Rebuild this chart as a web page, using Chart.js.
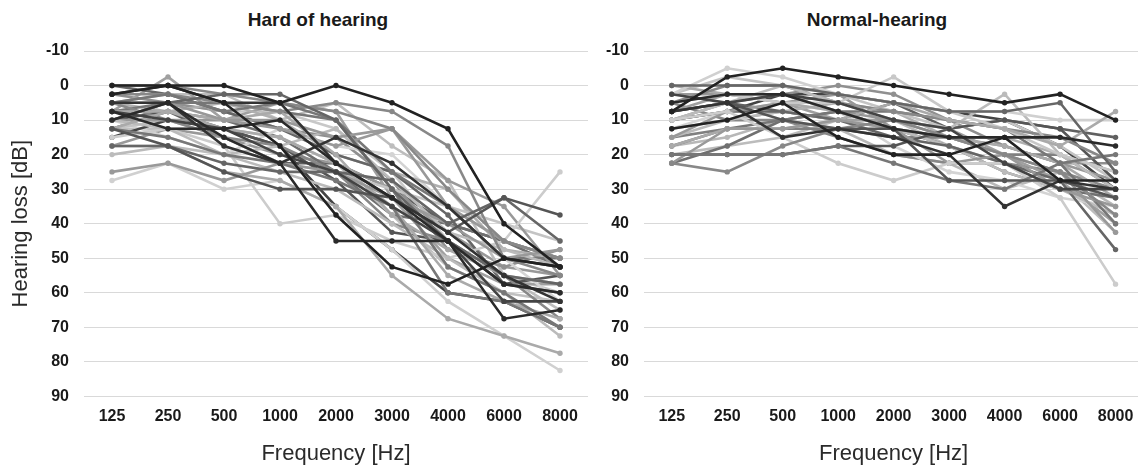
<!DOCTYPE html>
<html>
<head>
<meta charset="utf-8">
<script src="https://cdn.jsdelivr.net/npm/chart.js@4"></script>
<style>
  html, body { margin: 0; padding: 0; background: #fff; }
  body { position: relative; width: 1138px; height: 467px; overflow: hidden; font-family: "Liberation Sans", Arial, sans-serif; }
  canvas { position: absolute; top: 0; }
  .title { position: absolute; top: 9px; font-weight: bold; font-size: 19px; color: #1a1a1a; text-align: center; }
</style>
</head>
<body>
<div class="title" style="left:0;width:636px">Hard of hearing</div>
<div class="title" style="left:590px;width:574px">Normal-hearing</div>
<canvas id="hoh" width="600" height="467" style="left:0"></canvas>
<canvas id="nh" width="556" height="467" style="left:590px"></canvas>
<script>
const frequencies = ['125', '250', '500', '1000', '2000', '3000', '4000', '6000', '8000'];
const yMin = -10, yMax = 90, yStep = 10;

// hard of hearing, one row per listener (dB HL)
const hardOfHearing = [
  [0, 0, 0, 5, 0, 5, 12.5, 40, 52.5],
  [2.5, 0, 5, 17.5, 37.5, 52.5, 57.5, 50, 52.5],
  [7.5, 12.5, 12.5, 10, 22.5, 32.5, 45, 67.5, 65],
  [10, 5, 15, 22.5, 45, 45, 45, 57.5, 60],
  [5, 5, 17.5, 22.5, 15, 22.5, 35, 50, 52.5],
  [2.5, 0, 5, 5, 22.5, 32.5, 42.5, 55, 62.5],
  [7.5, 10, 12.5, 20, 25, 35, 45, 62.5, 62.5],
  [12.5, 17.5, 25, 30, 30, 32.5, 42.5, 32.5, 37.5],
  [17.5, 17.5, 22.5, 25, 25, 27.5, 40, 32.5, 45],
  [10, 5, 2.5, 2.5, 10, 30, 45, 55, 57.5],
  [5, 2.5, 7.5, 5, 10, 30, 52.5, 60, 70],
  [12.5, 15, 20, 22.5, 27.5, 35, 60, 62.5, 70],
  [0, 0, 2.5, 5, 7.5, 12.5, 30, 45, 50],
  [2.5, 2.5, 5, 7.5, 5, 7.5, 17.5, 50, 55],
  [5, 5, 10, 10, 15, 12.5, 35, 45, 50],
  [25, 22.5, 27.5, 22.5, 25, 32.5, 40, 50, 47.5],
  [7.5, 7.5, 10, 7.5, 20, 37.5, 47.5, 55, 57.5],
  [12.5, 7.5, 12.5, 15, 22.5, 35, 55, 62.5, 67.5],
  [10, 12.5, 20, 25, 30, 40, 50, 60, 72.5],
  [17.5, 17.5, 25, 27.5, 35, 55, 67.5, 72.5, 77.5],
  [27.5, 22.5, 30, 27.5, 35, 47.5, 62.5, 72.5, 82.5],
  [15, 12.5, 17.5, 40, 37.5, 45, 50, 45, 25],
  [20, 17.5, 20, 17.5, 12.5, 27.5, 42.5, 47.5, 52.5],
  [10, 10, 10, 12.5, 17.5, 12.5, 27.5, 35, 55],
  [5, 10, 15, 17.5, 25, 40, 45, 55, 67.5],
  [7.5, 5, 5, 7.5, 10, 25, 35, 50, 50],
  [0, 2.5, 7.5, 12.5, 20, 25, 37.5, 57.5, 60],
  [10, 7.5, 12.5, 17.5, 27.5, 42.5, 45, 57.5, 55],
  [15, 10, 12.5, 17.5, 35, 47.5, 60, 62.5, 70],
  [12.5, 10, 15, 22.5, 25, 30, 35, 40, 45],
  [5, 7.5, 5, 10, 20, 25, 30, 47.5, 50],
  [10, 15, 20, 12.5, 17.5, 20, 35, 50, 62.5],
  [7.5, -2.5, 10, 5, 7.5, 32.5, 50, 57.5, 57.5],
  [2.5, 5, 7.5, 12.5, 15, 27.5, 47.5, 52.5, 47.5],
  [12.5, 12.5, 12.5, 15, 22.5, 37.5, 52.5, 60, 62.5],
  [7.5, 7.5, 10, 15, 25, 37.5, 40, 45, 52.5],
  [5, 2.5, 2.5, 10, 5, 17.5, 27.5, 55, 65],
  [17.5, 12.5, 15, 20, 22.5, 30, 42.5, 52.5, 55],
  [10, 5, 7.5, 7.5, 12.5, 25, 45, 55, 60],
  [12.5, 7.5, 15, 22.5, 22.5, 30, 40, 45, 50]
];
const hohGreys = [
  '#222', '#222', '#2a2a2a', '#2a2a2a', '#333', '#333', '#444', '#555', '#666', '#666',
  '#777', '#777', '#888', '#888', '#999', '#999', '#aaa', '#aaa', '#bbb', '#aaa',
  '#d0d0d0', '#ccc', '#bbb', '#999', '#888', '#777', '#666', '#555', '#444', '#c4c4c4',
  '#b0b0b0', '#d4d4d4', '#a0a0a0', '#909090', '#c0c0c0', '#707070', '#bdbdbd', '#999', '#c8c8c8', '#606060'
];

// normal-hearing listeners
const normalHearing = [
  [7.5, -2.5, -5, -2.5, 0, 2.5, 5, 2.5, 10],
  [12.5, 10, 5, 15, 20, 20, 15, 27.5, 27.5],
  [5, 2.5, 2.5, 7.5, 12.5, 15, 15, 15, 17.5],
  [7.5, 5, 15, 12.5, 15, 20, 35, 27.5, 30],
  [2.5, 5, 2.5, 5, 10, 12.5, 22.5, 30, 30],
  [7.5, 5, 10, 12.5, 12.5, 27.5, 27.5, 27.5, 32.5],
  [0, 0, 0, 2.5, 5, 7.5, 7.5, 5, 25],
  [20, 20, 20, 17.5, 22.5, 27.5, 30, 22.5, 20],
  [22.5, 25, 17.5, 12.5, 10, 15, 20, 25, 37.5],
  [22.5, 12.5, 12.5, 10, 12.5, 15, 20, 25, 42.5],
  [17.5, 12.5, 12.5, 10, 5, 10, 12.5, 17.5, 7.5],
  [10, 7.5, 15, 22.5, 27.5, 22.5, 22.5, 32.5, 57.5],
  [2.5, -5, -2.5, 2.5, 5, 7.5, 7.5, 10, 10],
  [5, 2.5, 5, 5, -2.5, 7.5, 12.5, 20, 25],
  [10, 5, 0, 5, 10, 12.5, 2.5, 20, 30],
  [15, 7.5, 5, 2.5, 12.5, 22.5, 20, 30, 35],
  [5, 0, 0, 5, 7.5, 10, 12.5, 15, 22.5],
  [17.5, 12.5, 10, 7.5, 7.5, 10, 12.5, 22.5, 40],
  [10, 7.5, 7.5, 10, 15, 17.5, 22.5, 27.5, 47.5],
  [20, 20, 20, 17.5, 17.5, 12.5, 10, 12.5, 27.5],
  [0, 2.5, 5, 7.5, 12.5, 15, 17.5, 22.5, 32.5],
  [15, 10, 7.5, 10, 12.5, 17.5, 25, 30, 37.5],
  [2.5, -2.5, 0, 2.5, 7.5, 12.5, 10, 17.5, 27.5],
  [12.5, 10, 7.5, 5, 7.5, 15, 15, 20, 25],
  [7.5, 2.5, 5, 10, 10, 12.5, 20, 27.5, 40],
  [10, 5, 2.5, 0, 2.5, 10, 17.5, 22.5, 22.5],
  [15, 12.5, 12.5, 12.5, 15, 15, 20, 20, 30],
  [22.5, 17.5, 10, 7.5, 12.5, 17.5, 25, 30, 32.5],
  [12.5, 7.5, 5, 7.5, 17.5, 25, 27.5, 32.5, 35],
  [7.5, 5, 7.5, 10, 5, 12.5, 10, 12.5, 15],
  [2.5, 2.5, 2.5, 7.5, 10, 15, 17.5, 22.5, 27.5],
  [20, 17.5, 15, 10, 10, 17.5, 22.5, 27.5, 42.5],
  [5, 10, 10, 15, 20, 22.5, 22.5, 25, 30],
  [17.5, 15, 10, 12.5, 20, 22.5, 30, 25, 35],
  [10, 7.5, 2.5, 2.5, 5, 7.5, 10, 17.5, 30]
];
const nhGreys = [
  '#222', '#222', '#2a2a2a', '#333', '#444', '#555', '#666', '#777', '#888', '#999',
  '#aaa', '#ccc', '#d0d0d0', '#c8c8c8', '#bbb', '#999', '#888', '#777', '#666', '#555',
  '#aaa', '#bbb', '#c4c4c4', '#b0b0b0', '#a0a0a0', '#909090', '#808080', '#707070', '#d4d4d4', '#606060',
  '#999', '#bcbcbc', '#888', '#b8b8b8', '#444'
];

const tickFont = { family: '"Liberation Sans", Arial, sans-serif', size: 16, weight: 'bold' };
const titleFont = { family: '"Liberation Sans", Arial, sans-serif', size: 22 };

function makeChart(id, rows, greys, showYTitle, axisWidth, padRight) {
  const datasets = rows.map((row, i) => ({
    data: row,
    borderColor: greys[i],
    backgroundColor: greys[i],
    borderWidth: 2.6,
    pointRadius: 2.7,
    pointBorderWidth: 0,
    pointHoverRadius: 2.7
  }));

  new Chart(document.getElementById(id), {
    type: 'line',
    data: { labels: frequencies, datasets: datasets },
    options: {
      responsive: false,
      animation: false,
      events: [],
      layout: { padding: { top: 51, right: padRight, bottom: 0, left: 0 } },
      plugins: { legend: { display: false }, tooltip: { enabled: false } },
      scales: {
        x: {
          offset: true,
          grid: { display: false, drawTicks: false },
          border: { display: false },
          ticks: { color: '#1a1a1a', font: tickFont, padding: 11, autoSkip: false, maxRotation: 0 },
          title: { display: true, text: 'Frequency [Hz]', color: '#2a2a2a', font: titleFont, padding: { top: 3, bottom: 0 } }
        },
        y: {
          reverse: true,
          min: yMin,
          max: yMax,
          grid: { color: '#d9d9d9', lineWidth: 1, drawTicks: false },
          border: { display: false },
          ticks: { stepSize: yStep, color: '#1a1a1a', font: tickFont, padding: 15 },
          title: { display: showYTitle, text: 'Hearing loss [dB]', color: '#2a2a2a', font: titleFont, padding: { top: 8, bottom: 0 } },
          afterFit: axis => { axis.width = axisWidth; }
        }
      }
    }
  });
}

makeChart('hoh', hardOfHearing, hohGreys, true, 84, 12);
makeChart('nh', normalHearing, nhGreys, false, 54, 0);
</script>
</body>
</html>
